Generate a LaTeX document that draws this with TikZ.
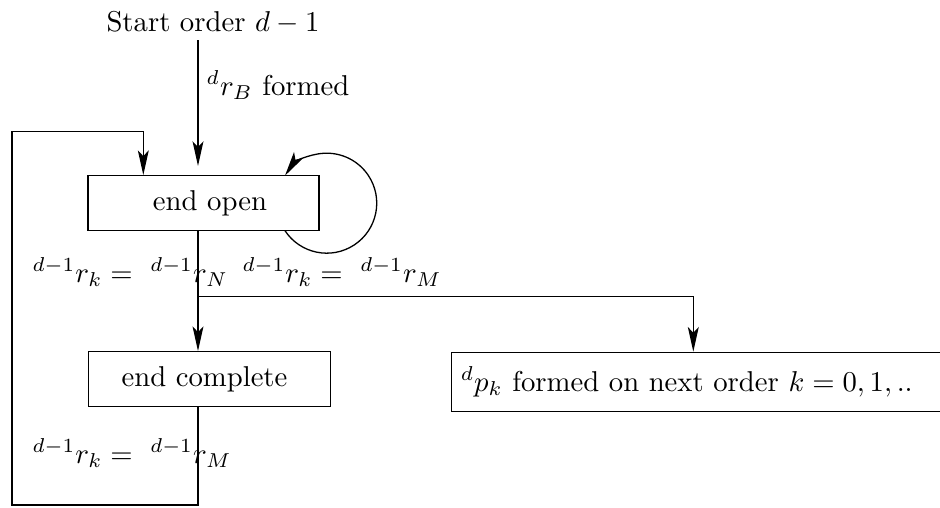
\documentclass[tikz,border=0pt]{standalone}
\usetikzlibrary{arrows.meta}
\def\pxu{0.3484pt}
\begin{document}
\begin{tikzpicture}[x=0.3484pt, y=-0.3484pt, line width=0.45pt,
  state/.style={draw, rectangle, inner sep=0pt, minimum height=55*\pxu},
  lbl/.style={inner sep=0pt, anchor=base west},
  arr/.style={-{Stealth[length=8.6pt,width=3.8pt,inset=2pt]}}]
  \clip (0,0) rectangle (940,508);

  % states
  \node[state, minimum width=231*\pxu] (open) at (203.5,203.2) {};
  \node[inner sep=0pt] (opentext) at (210,203.2) {end open};
  \node[state, minimum width=242*\pxu] (complete) at (209.2,379.2) {};
  \node[inner sep=0pt] (completetext) at (204.5,379.2) {end complete};
  \node[draw, rectangle, anchor=north west, inner xsep=9.5*\pxu, inner ysep=0pt,
        minimum height=59*\pxu, text width=520*\pxu, align=left] (next) at (450.7,351.7)
        {$^dp_k$ formed on next order $k=0,1,..$};

  % start and entry
  \node[lbl, anchor=base] (start) at (213,31) {Start order $d-1$};
  \coordinate (s) at (198,40);
  \coordinate (s2) at (198,166);
  \draw[arr] (s) -- (s2);
  \node[lbl] (formed) at (206,95) {$^dr_B$ formed};

  % self loop on end open
  \coordinate (la) at (285,230.7);
  \draw[arr] (la) arc[start angle=146.6, end angle=-146.6, radius=50];

  % end open -> end complete and branch to next order
  \coordinate (j) at (198,296.7);
  \coordinate (jr) at (693.3,296.7);
  \draw (open.south -| j) -- (j);
  \draw[arr] (j) -- (complete.north -| j);
  \draw[arr] (j) -- (jr) -- (next.north -| jr);
  \node[lbl] (cN) at (32,282) {$^{d-1}r_k =\ {}^{d-1}r_N$};
  \node[lbl] (cM) at (242,282) {$^{d-1}r_k =\ {}^{d-1}r_M$};

  % return loop from end complete to end open
  \coordinate (b1) at (198,505);
  \coordinate (b2) at (12,505);
  \coordinate (b3) at (12,131.3);
  \coordinate (b4) at (143.3,131.3);
  \draw[arr] (complete.south -| b1) -- (b1) -- (b2) -- (b3) -- (b4) -- (open.north -| b4);
  \node[lbl] (cM2) at (32,463) {$^{d-1}r_k =\ {}^{d-1}r_M$};
\end{tikzpicture}
\end{document}
